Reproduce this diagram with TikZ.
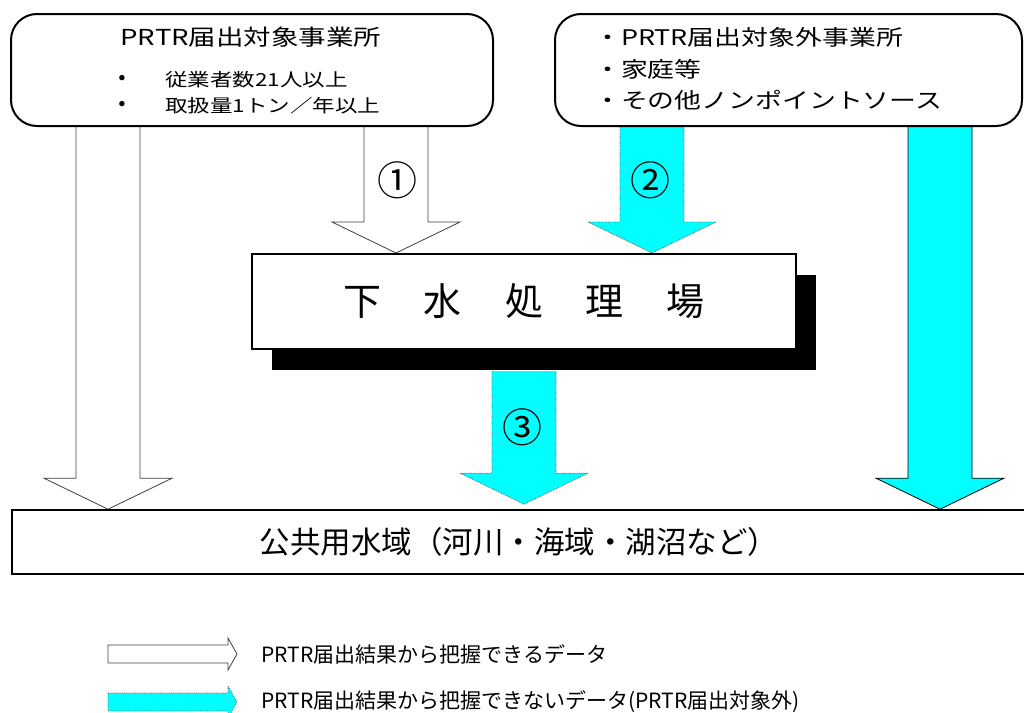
\documentclass[tikz,border=0pt]{standalone}
\usepackage{fontspec}
\usetikzlibrary{calc}
\usetikzlibrary{positioning}
\usetikzlibrary{shadows}
\usetikzlibrary{backgrounds}
\newfontfamily\jp{Noto Sans CJK JP}
\newfontfamily\jpwide[FakeStretch=1.25]{Noto Sans CJK JP}
\definecolor{aqua}{RGB}{0,255,255}

\begin{document}
\begin{tikzpicture}[x=1pt,y=-1pt,
  source/.style={rectangle,rounded corners=26pt,draw,line width=2pt,fill=white},
  plant/.style={rectangle,draw,line width=2pt,fill=white,
    drop shadow={fill=black,opacity=1,shadow xshift=20pt,shadow yshift=-21pt}},
  downflow/.style={to path={let \p1=(\tikztostart),\p2=(\tikztotarget) in
    (\x1-32pt,\y1) -- (\x1-32pt,\y2+31pt) -- (\x1-64pt,\y2+31pt) -- (\x2,\y2)
    -- (\x1+64pt,\y2+31pt) -- (\x1+32pt,\y2+31pt) -- (\x1+32pt,\y1)}},
  rightflow/.style={to path={let \p1=(\tikztostart),\p2=(\tikztotarget) in
    (\x1,\y1+9pt) -- (\x2-9pt,\y1+9pt) -- (\x2-9pt,\y1+16pt) -- (\x2,\y2)
    -- (\x2-9pt,\y1-16pt) -- (\x2-9pt,\y1-9pt) -- (\x1,\y1-9pt) -- cycle}},
  openflow/.style={draw=black!75,line width=0.8pt,fill=white},
  dataflow/.style={draw=black!60,densely dotted,line width=0.8pt,fill=aqua},
  bigflow/.style={draw=black,line width=0.8pt,fill=aqua},
  num/.style={font=\jp\fontsize{40}{40}\selectfont},
  dot/.style={font=\fontsize{24}{24}\selectfont,inner sep=0pt},
  legend/.style={font=\jp\fontsize{21}{21}\selectfont,inner sep=0pt,anchor=west}]
\useasboundingbox (0,0) rectangle (1024,712);
\clip (0,0) rectangle (1024,712);

\node [source,minimum width=482pt,minimum height=112pt] (box1) at (252,70) {};
\node [font=\jpwide\fontsize{22}{22}\selectfont] (title1) at (251,37) {PRTR届出対象事業所};
\node [dot] (dot1) at (122,80) {\textbullet};
\node [dot] (dot2) at (122,106) {\textbullet};
\node [font=\jpwide\fontsize{18}{26}\selectfont,align=left,anchor=west,inner sep=0pt] (rules) at (165,93) {従業者数21人以上\\取扱量1トン／年以上};

\node [source,minimum width=467pt,minimum height=112pt] (box2) at (788.5,70) {};
\node [font=\jpwide\fontsize{21.5}{31.5}\selectfont,align=left,anchor=west,inner sep=0pt] (others) at (594,69) {・PRTR届出対象外事業所\\・家庭等\\・その他ノンポイントソース};

\node [plant,minimum width=544pt,minimum height=95pt,font=\jp\fontsize{38}{38}\selectfont] (plant) at (524,301.5) {下\hspace{43pt}水\hspace{43pt}処\hspace{43pt}理\hspace{43pt}場};

\node [rectangle,draw,line width=1.6pt,fill=white,minimum width=1014pt,minimum height=64pt,font=\jp\fontsize{30.5}{30.5}\selectfont] (water) at (519,542) {公共用水域（河川・海域・湖沼など）};

\coordinate (x1) at (108,0);
\coordinate (x2) at (396,0);
\coordinate (x3) at (652,0);
\coordinate (x4) at (940,0);
\coordinate (x5) at (524,0);

\begin{pgfonlayer}{background}
\draw [openflow,downflow] (box1.south -| x1) to (water.north -| x1);
\draw [openflow,downflow] (box1.south -| x2) to (plant.north -| x2);
\draw [dataflow,downflow] (box2.south -| x3) to (plant.north -| x3);
\draw [bigflow,downflow] (box2.south -| x4) to (water.north -| x4);
\draw [dataflow,downflow] ($(plant.south -| x5)+(0,21)$) to ($(water.north -| x5)+(0,-5)$);
\end{pgfonlayer}

\node [num] (n1) at (397,180) {①};
\node [num] (n2) at (650,180) {②};
\node [num] (n3) at (522,427) {③};

\coordinate (lw0) at (108,654);
\coordinate (lw1) at (237,654);
\coordinate (lc0) at (108,702);
\coordinate (lc1) at (237,702);
\draw [openflow,rightflow] (lw0) to (lw1);
\draw [dataflow,rightflow] (lc0) to (lc1);
\node [legend,right=24pt of lw1] (legw) {PRTR届出結果から把握できるデータ};
\node [legend,right=24pt of lc1] (legc) {PRTR届出結果から把握できないデータ(PRTR届出対象外)};
\end{tikzpicture}
\end{document}
